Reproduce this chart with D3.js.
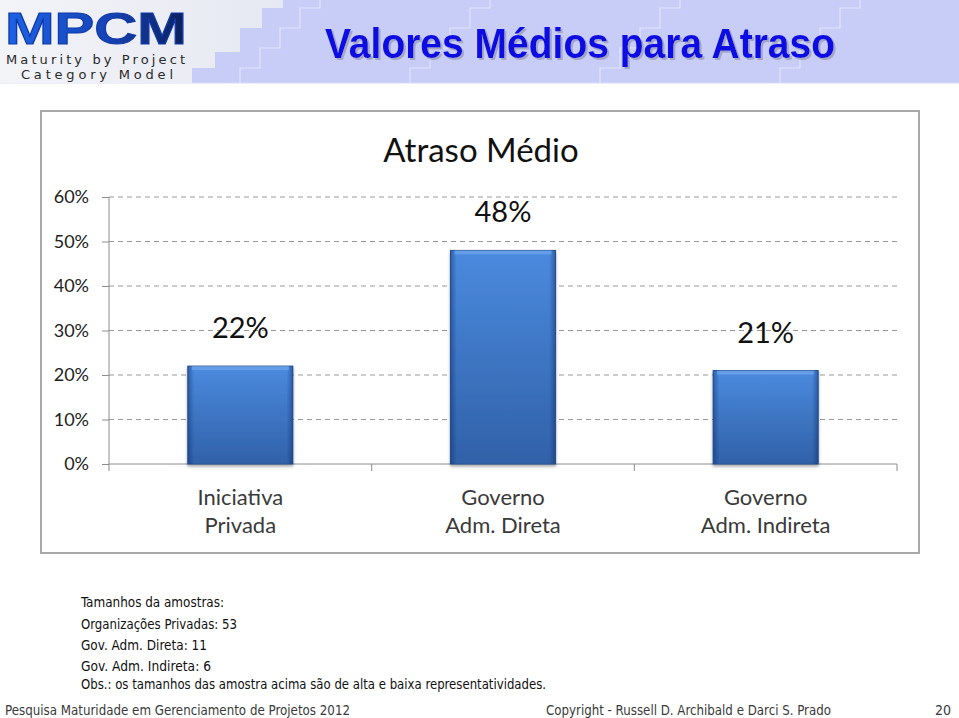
<!DOCTYPE html>
<html>
<head>
<meta charset="utf-8">
<script src="https://cdn.jsdelivr.net/npm/d3@7"></script>
<style>
  body { margin: 0; background: #fff; }
  svg { display: block; }
</style>
</head>
<body>
<svg id="slide" width="959" height="718"></svg>
<script>
// data
const categories = [["Iniciativa", "Privada"], ["Governo", "Adm. Direta"], ["Governo", "Adm. Indireta"]];
const atraso = [0.22, 0.48, 0.21];
const yTicks = [0, 0.1, 0.2, 0.3, 0.4, 0.5, 0.6];
const notes = [
  "Tamanhos da amostras:",
  "Organizações Privadas: 53",
  "Gov. Adm. Direta: 11",
  "Gov. Adm. Indireta: 6",
  "Obs.: os tamanhos das amostra acima são de alta e baixa representatividades."
];

const svg = d3.select("#slide");
const defs = svg.append("defs");

// header background
svg.append("rect").attr("x", 0).attr("y", 0).attr("width", 959).attr("height", 83).attr("fill", "#c7cdf7");
svg.append("line").attr("x1", 0).attr("x2", 959).attr("y1", 83).attr("y2", 83).attr("stroke", "#d8dcf6");

// decorative stair lines in header
const stairs = [[300, 0], [470, 0], [660, 0], [840, 0]];
stairs.forEach(function (s) {
  const x0 = s[0];
  svg.append("path")
    .attr("d", "M" + (x0 - 60) + ",83 V68 H" + (x0 - 40) + " V48 H" + (x0 - 20) + " V28 H" + x0 + " V8 H" + (x0 + 20) + " V0")
    .attr("fill", "none").attr("stroke", "#e2e5fb").attr("stroke-width", 1.2);
});

// logo block
const logoGrad = defs.append("linearGradient").attr("id", "logoBg").attr("x1", 0).attr("x2", 1).attr("y1", 0).attr("y2", 0);
logoGrad.append("stop").attr("offset", "0%").attr("stop-color", "#f3f4f8");
logoGrad.append("stop").attr("offset", "100%").attr("stop-color", "#e6e8f2");
svg.append("path")
  .attr("d", "M0,0 H283 V8 H262 V28 H240 V52 H215 V68 H192 V83 H0 Z")
  .attr("fill", "url(#logoBg)");

const mpcmGrad = defs.append("linearGradient").attr("id", "mpcm").attr("x1", 0).attr("x2", 1).attr("y1", 0).attr("y2", 0);
mpcmGrad.append("stop").attr("offset", "0%").attr("stop-color", "#1c63e6");
mpcmGrad.append("stop").attr("offset", "55%").attr("stop-color", "#1644b8");
mpcmGrad.append("stop").attr("offset", "100%").attr("stop-color", "#0b1f5c");
svg.append("text").attr("x", 5).attr("y", 44)
  .attr("font-family", "'Liberation Sans', Arial, sans-serif").attr("font-weight", "bold")
  .attr("font-size", 44).attr("textLength", 182).attr("lengthAdjust", "spacingAndGlyphs")
  .attr("stroke", "#0f3aa8").attr("stroke-width", 1)
  .attr("fill", "url(#mpcm)").text("MPCM");
svg.append("text").attr("x", 6).attr("y", 64)
  .attr("font-family", "'DejaVu Sans', sans-serif").attr("font-size", 13)
  .attr("textLength", 179).attr("lengthAdjust", "spacing")
  .attr("fill", "#2a2a2a").text("Maturity by Project");
svg.append("text").attr("x", 21).attr("y", 79)
  .attr("font-family", "'DejaVu Sans', sans-serif").attr("font-size", 13)
  .attr("textLength", 152).attr("lengthAdjust", "spacing")
  .attr("fill", "#2a2a2a").text("Category Model");

// slide title
const shadow = defs.append("filter").attr("id", "tshadow").attr("x", "-5%").attr("y", "-20%").attr("width", "110%").attr("height", "140%");
shadow.append("feDropShadow").attr("dx", 2).attr("dy", 2).attr("stdDeviation", 0.6).attr("flood-color", "#9497ad").attr("flood-opacity", 0.7);
svg.append("text").attr("x", 325).attr("y", 58)
  .attr("font-family", "'Liberation Sans Narrow', 'Liberation Sans', sans-serif").attr("font-weight", "bold")
  .attr("font-size", 42).attr("textLength", 510).attr("lengthAdjust", "spacingAndGlyphs")
  .attr("fill", "#0b0be3").attr("filter", "url(#tshadow)")
  .text("Valores Médios para Atraso");

// chart frame
svg.append("rect").attr("x", 41).attr("y", 111).attr("width", 878).attr("height", 442)
  .attr("fill", "#fff").attr("stroke", "#a9a9a9").attr("stroke-width", 2);

svg.append("text").attr("x", 481).attr("y", 162).attr("text-anchor", "middle")
  .attr("font-family", "Lato, 'Open Sans', sans-serif").attr("font-size", 33).attr("fill", "#111")
  .text("Atraso Médio");

const x = d3.scaleBand().domain(d3.range(categories.length)).range([109, 897]).paddingInner(0.6).paddingOuter(0.3);
const y = d3.scaleLinear().domain([0, 0.6]).range([464, 197]);

// gridlines
svg.append("g").selectAll("line").data(yTicks.filter(d => d > 0)).join("line")
  .attr("x1", 109).attr("x2", 897).attr("y1", d => y(d)).attr("y2", d => y(d))
  .attr("stroke", "#9a9a9a").attr("stroke-width", 1).attr("stroke-dasharray", "5,4");

// y axis
const yAxis = svg.append("g").attr("transform", "translate(109,0)")
  .call(d3.axisLeft(y).tickValues(yTicks).tickFormat(d3.format(".0%")).tickSize(7).tickPadding(13));
yAxis.select(".domain").attr("stroke", "#8c8c8c").attr("d", "M0," + y(0.6) + "V" + (y(0) + 7));
yAxis.selectAll(".tick line").attr("stroke", "#8c8c8c");
yAxis.selectAll(".tick text").attr("font-family", "Lato, 'Open Sans', sans-serif").attr("font-size", 18).attr("fill", "#222");

// x axis line and boundary ticks
const xAxisG = svg.append("g");
xAxisG.append("line").attr("x1", 109).attr("x2", 897).attr("y1", y(0)).attr("y2", y(0)).attr("stroke", "#8c8c8c");
const bounds = d3.range(categories.length + 1).map(i => 109 + i * x.step());
xAxisG.selectAll("line.b").data(bounds.slice(1)).join("line").attr("class", "b")
  .attr("x1", d => d).attr("x2", d => d).attr("y1", y(0)).attr("y2", y(0) + 7).attr("stroke", "#8c8c8c");

// bar styles
const barGrad = defs.append("linearGradient").attr("id", "barV").attr("x1", 0).attr("x2", 0).attr("y1", 0).attr("y2", 1);
barGrad.append("stop").attr("offset", "0%").attr("stop-color", "#4b8ade");
barGrad.append("stop").attr("offset", "100%").attr("stop-color", "#3061a8");
const edgeGrad = defs.append("linearGradient").attr("id", "barEdge").attr("x1", 0).attr("x2", 1).attr("y1", 0).attr("y2", 0);
edgeGrad.append("stop").attr("offset", "0%").attr("stop-color", "#0a2a66").attr("stop-opacity", 0.45);
edgeGrad.append("stop").attr("offset", "6%").attr("stop-color", "#0a2a66").attr("stop-opacity", 0.0);
edgeGrad.append("stop").attr("offset", "94%").attr("stop-color", "#0a2a66").attr("stop-opacity", 0.0);
edgeGrad.append("stop").attr("offset", "100%").attr("stop-color", "#0a2a66").attr("stop-opacity", 0.45);
const barShadow = defs.append("filter").attr("id", "bshadow").attr("x", "-10%").attr("y", "-10%").attr("width", "120%").attr("height", "120%");
barShadow.append("feDropShadow").attr("dx", 0).attr("dy", 2).attr("stdDeviation", 1.5).attr("flood-color", "#000").attr("flood-opacity", 0.35);

const bars = svg.append("g").selectAll("g").data(atraso).join("g");
bars.append("rect")
  .attr("x", (d, i) => x(i)).attr("width", x.bandwidth())
  .attr("y", d => y(d)).attr("height", d => y(0) - y(d))
  .attr("fill", "url(#barV)").attr("stroke", "#2b5596").attr("stroke-width", 1)
  .attr("filter", "url(#bshadow)");
bars.append("rect")
  .attr("x", (d, i) => x(i)).attr("width", x.bandwidth())
  .attr("y", d => y(d)).attr("height", d => y(0) - y(d))
  .attr("fill", "url(#barEdge)");
bars.append("rect")
  .attr("x", (d, i) => x(i) + 4).attr("width", x.bandwidth() - 8)
  .attr("y", d => y(d)).attr("height", 4)
  .attr("fill", "#7aaef0").attr("opacity", 0.55);

// value labels
svg.append("g").selectAll("text").data(atraso).join("text")
  .attr("x", (d, i) => x(i) + x.bandwidth() / 2)
  .attr("y", d => y(d) - 28)
  .attr("text-anchor", "middle")
  .attr("font-family", "Lato, 'Open Sans', sans-serif").attr("font-size", 29).attr("fill", "#111")
  .text(d => d3.format(".0%")(d));

// category labels
const catG = svg.append("g").selectAll("text").data(categories).join("text")
  .attr("text-anchor", "middle")
  .attr("font-family", "Lato, 'Open Sans', sans-serif").attr("font-size", 22).attr("fill", "#3a3a3a");
catG.selectAll("tspan").data((d, i) => d.map(t => ({ t: t, i: i }))).join("tspan")
  .attr("x", d => x(d.i) + x.bandwidth() / 2)
  .attr("y", (d, j) => 505 + j * 28)
  .text(d => d.t);

// sample notes
const noteY = [607, 629, 650, 671, 689];
const noteW = [143, 156, 126, 130, 465];
svg.append("g").selectAll("text").data(notes).join("text")
  .attr("x", 81).attr("y", (d, i) => noteY[i])
  .attr("font-family", "'DejaVu Sans Condensed', 'DejaVu Sans', sans-serif").attr("font-size", 14)
  .attr("textLength", (d, i) => noteW[i]).attr("lengthAdjust", "spacingAndGlyphs")
  .attr("fill", "#111")
  .text(d => d);

// footer
const footer = svg.append("g").attr("font-family", "'DejaVu Sans Condensed', 'DejaVu Sans', sans-serif")
  .attr("font-size", 14).attr("fill", "#3a3a3a");
footer.append("text").attr("x", 5).attr("y", 715).attr("textLength", 345).attr("lengthAdjust", "spacingAndGlyphs")
  .text("Pesquisa Maturidade em Gerenciamento de Projetos 2012");
footer.append("text").attr("x", 546).attr("y", 715).attr("textLength", 285).attr("lengthAdjust", "spacingAndGlyphs")
  .text("Copyright - Russell D. Archibald e Darci S. Prado");
footer.append("text").attr("x", 951).attr("y", 715).attr("text-anchor", "end").text("20");
</script>
</body>
</html>
